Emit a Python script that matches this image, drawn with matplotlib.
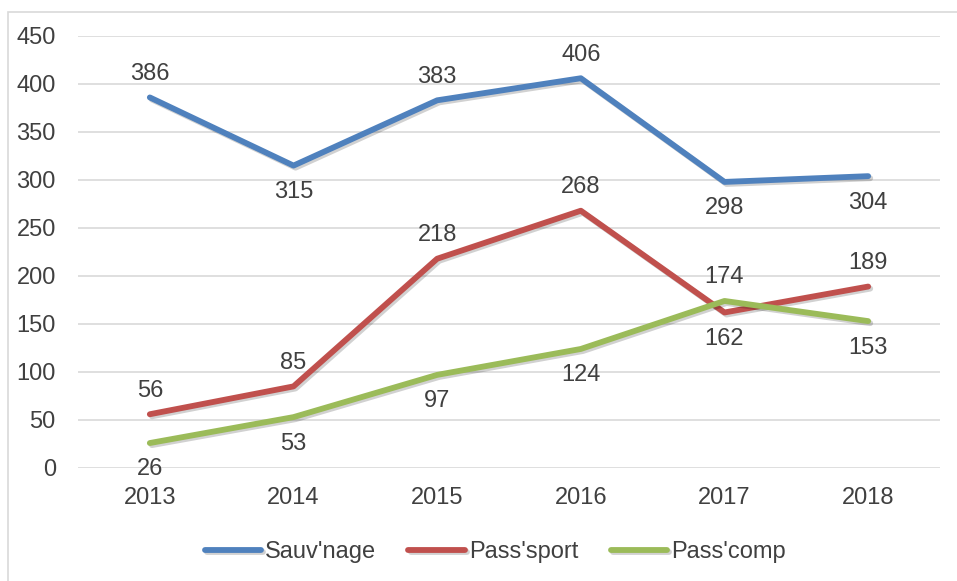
import matplotlib
matplotlib.use("Agg")
import matplotlib.pyplot as plt
import matplotlib.patheffects as pe
from matplotlib.patches import Rectangle
import numpy as np

# --- data ---
YEARS = ["2013", "2014", "2015", "2016", "2017", "2018"]
SAUVNAGE = [386, 315, 383, 406, 298, 304]
PASSSPORT = [56, 85, 218, 268, 162, 189]
PASSCOMP = [26, 53, 97, 124, 174, 153]

# label placement: +1 above the point, -1 below
SAUV_POS = [1, -1, 1, 1, -1, -1]
SPORT_POS = [1, 1, 1, 1, -1, 1]
COMP_POS = [-1, -1, -1, -1, 1, -1]

SERIES = [
    ("Sauv'nage", SAUVNAGE, SAUV_POS, "#4F81BD"),
    ("Pass'sport", PASSSPORT, SPORT_POS, "#C0504D"),
    ("Pass'comp", PASSCOMP, COMP_POS, "#9BBB59"),
]

TEXT = "#404040"
FS = 17

plt.rcParams["font.family"] = ["Liberation Sans", "DejaVu Sans"]

fig = plt.figure(figsize=(9.57, 5.81), dpi=100)
ax = fig.add_axes([78 / 957, 1 - 468 / 581, (940 - 78) / 957, (468 - 36) / 581])

# chart-area border (partly cropped in the original)
fig.patches.append(Rectangle((8 / 957, -0.05), 1.0, 1 - 12 / 581 + 0.05,
                             transform=fig.transFigure, fill=False,
                             edgecolor="#D9D9D9", linewidth=1.2))

x = np.arange(len(YEARS))
shadow = [pe.SimpleLineShadow(offset=(1.5, -1.5), alpha=0.18, shadow_color="black"), pe.Normal()]

for name, vals, pos, color in SERIES:
    ax.plot(x, vals, color=color, linewidth=4.2, solid_capstyle="round",
            solid_joinstyle="round", label=name, path_effects=shadow, zorder=3)
    for i, v in enumerate(vals):
        ax.annotate(str(v), (x[i], v), textcoords="offset points",
                    xytext=(0, 18 * pos[i] - 1), ha="center", va="center",
                    fontsize=FS, color=TEXT, zorder=4)

ax.set_xlim(-0.5, len(YEARS) - 0.5)
ax.set_ylim(0, 450)
ax.set_yticks(np.arange(0, 451, 50))
ax.set_xticks(x)
ax.set_xticklabels(YEARS)
ax.tick_params(axis="both", length=0, labelsize=FS, labelcolor=TEXT)
ax.tick_params(axis="x", pad=13.5)
ax.tick_params(axis="y", pad=16)
ax.grid(axis="y", color="#D9D9D9", linewidth=1.2)
ax.set_axisbelow(True)
for s in ax.spines.values():
    s.set_visible(False)

leg = ax.legend(loc="center", bbox_to_anchor=(0.484, -0.195), ncol=3, frameon=False,
                fontsize=FS, handlelength=2.4, handletextpad=0.17, columnspacing=1.36)
for t in leg.get_texts():
    t.set_color(TEXT)

fig.savefig("out.png", dpi=100)
